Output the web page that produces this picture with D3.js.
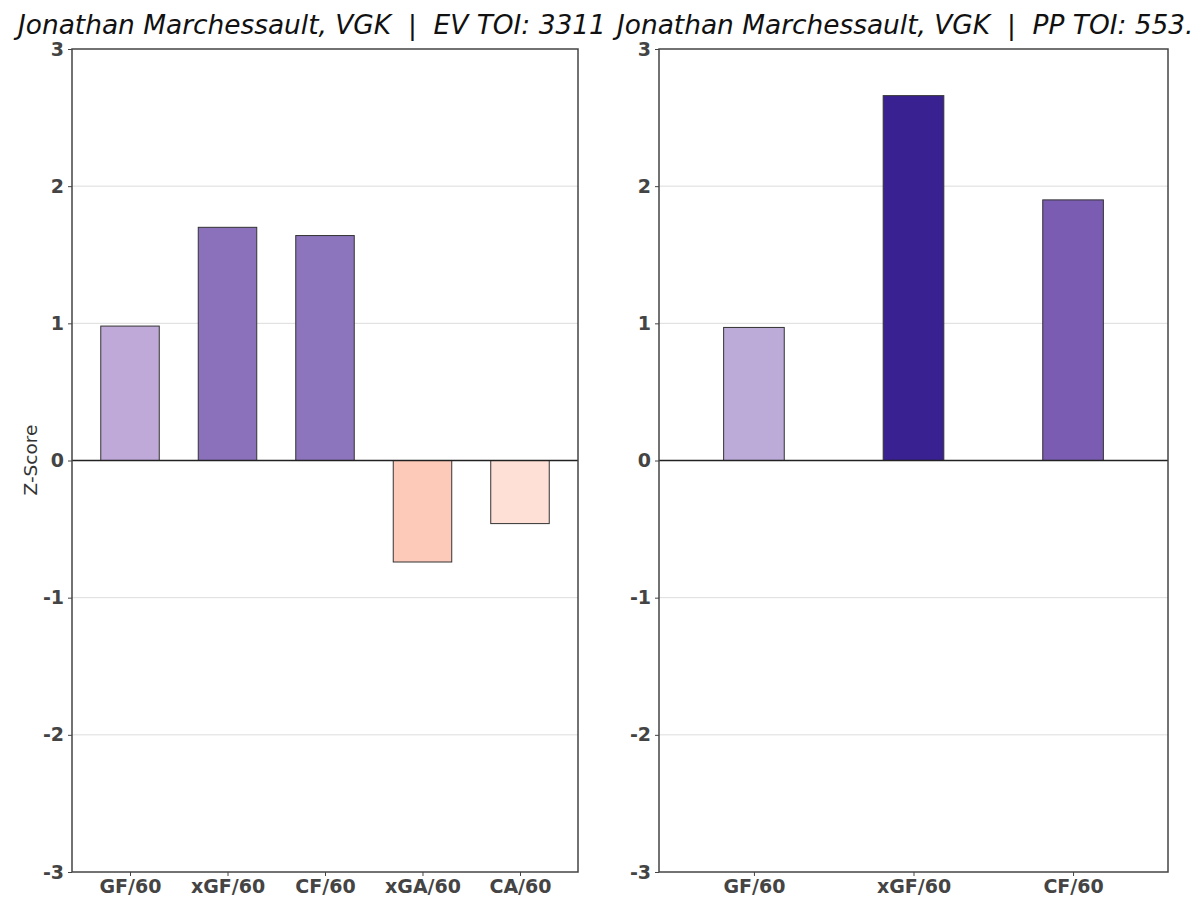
<!DOCTYPE html>
<html><head><meta charset="utf-8">
<script src="https://cdn.jsdelivr.net/npm/d3@7"></script>
<style>body{margin:0;background:#fff}svg{display:block}text{font-family:"DejaVu Sans",sans-serif}</style>
</head><body>
<script>
const evCategories = ["GF/60","xGF/60","CF/60","xGA/60","CA/60"];
const evValues = [0.98, 1.70, 1.64, -0.74, -0.46];
const evColors = ["#bfa9d8","#8b70bc","#8c75bd","#fdc9b9","#fee0d6"];
const ppCategories = ["GF/60","xGF/60","CF/60"];
const ppValues = [0.97, 2.66, 1.90];
const ppColors = ["#bcaad8","#3a2191","#7a5cb2"];
const yTicks = [-3,-2,-1,0,1,2,3];
const titles = ["Jonathan Marchessault, VGK  |  EV TOI: 3311","Jonathan Marchessault, VGK  |  PP TOI: 553."];

const W=1200,H=912;
const svg=d3.select("body").append("svg").attr("width",W).attr("height",H);
const defs=svg.append("defs");
defs.append("clipPath").attr("id","clipL").append("rect").attr("x",0).attr("y",0).attr("width",611).attr("height",H);
defs.append("clipPath").attr("id","clipR").append("rect").attr("x",611).attr("y",0).attr("width",589).attr("height",H);

const panels=[
 {cats:evCategories,vals:evValues,cols:evColors,x0:72,x1:578,bw:0.6,title:titles[0],tx:18,clip:"clipL",ylabel:true},
 {cats:ppCategories,vals:ppValues,cols:ppColors,x0:659,x1:1168,bw:0.38,title:titles[1],tx:617,clip:"clipR",ylabel:false}
];
const y=d3.scaleLinear().domain([-3,3]).range([872,49]);

panels.forEach(p=>{
  const g=svg.append("g").attr("clip-path","url(#"+p.clip+")");
  const n=p.cats.length;
  const x=d3.scaleLinear().domain([-0.595,n-1+0.595]).range([p.x0,p.x1]);
  g.append("g").selectAll("line").data(yTicks.filter(t=>t!==0&&Math.abs(t)<3)).join("line")
    .attr("x1",p.x0).attr("x2",p.x1).attr("y1",d=>y(d)).attr("y2",d=>y(d))
    .attr("stroke","#dddddd").attr("stroke-width",1);
  g.append("g").selectAll("rect").data(p.vals).join("rect")
    .attr("x",(d,i)=>x(i-p.bw/2)).attr("width",(d,i)=>x(i+p.bw/2)-x(i-p.bw/2))
    .attr("y",d=>y(Math.max(0,d))).attr("height",d=>Math.abs(y(d)-y(0)))
    .attr("fill",(d,i)=>p.cols[i]).attr("stroke","#333").attr("stroke-width",1);
  g.append("line").attr("x1",p.x0).attr("x2",p.x1).attr("y1",y(0)).attr("y2",y(0))
    .attr("stroke","#222").attr("stroke-width",1.5);
  const ya=g.append("g").attr("transform","translate("+p.x0+",0)")
    .call(d3.axisLeft(y).tickValues(yTicks).tickFormat(d=>String(d)).tickSize(4).tickPadding(4));
  const xa=g.append("g").attr("transform","translate(0,872)")
    .call(d3.axisBottom(x).tickValues(d3.range(n)).tickFormat(i=>p.cats[i]).tickSize(4).tickPadding(4));
  [ya,xa].forEach(a=>{
    a.select(".domain").remove();
    a.selectAll(".tick line").attr("stroke","#444").attr("stroke-width",1);
    a.selectAll(".tick text").attr("fill","#444").style("font-size","19px").style("font-weight","bold")
     .style("font-family","'DejaVu Sans',sans-serif");
  });
  g.append("rect").attr("x",p.x0).attr("y",49).attr("width",p.x1-p.x0).attr("height",823)
    .attr("fill","none").attr("stroke","#444").attr("stroke-width",1.5);
  g.append("text").attr("x",p.tx).attr("y",34).text(p.title)
    .style("font-size","26.4px").style("font-style","italic").style("white-space","pre").attr("fill","#111");
  if(p.ylabel){
    g.append("text").attr("transform","translate(37,460) rotate(-90)").attr("text-anchor","middle")
     .text("Z-Score").style("font-size","18.5px").attr("fill","#333");
  }
});
</script>
</body></html>
